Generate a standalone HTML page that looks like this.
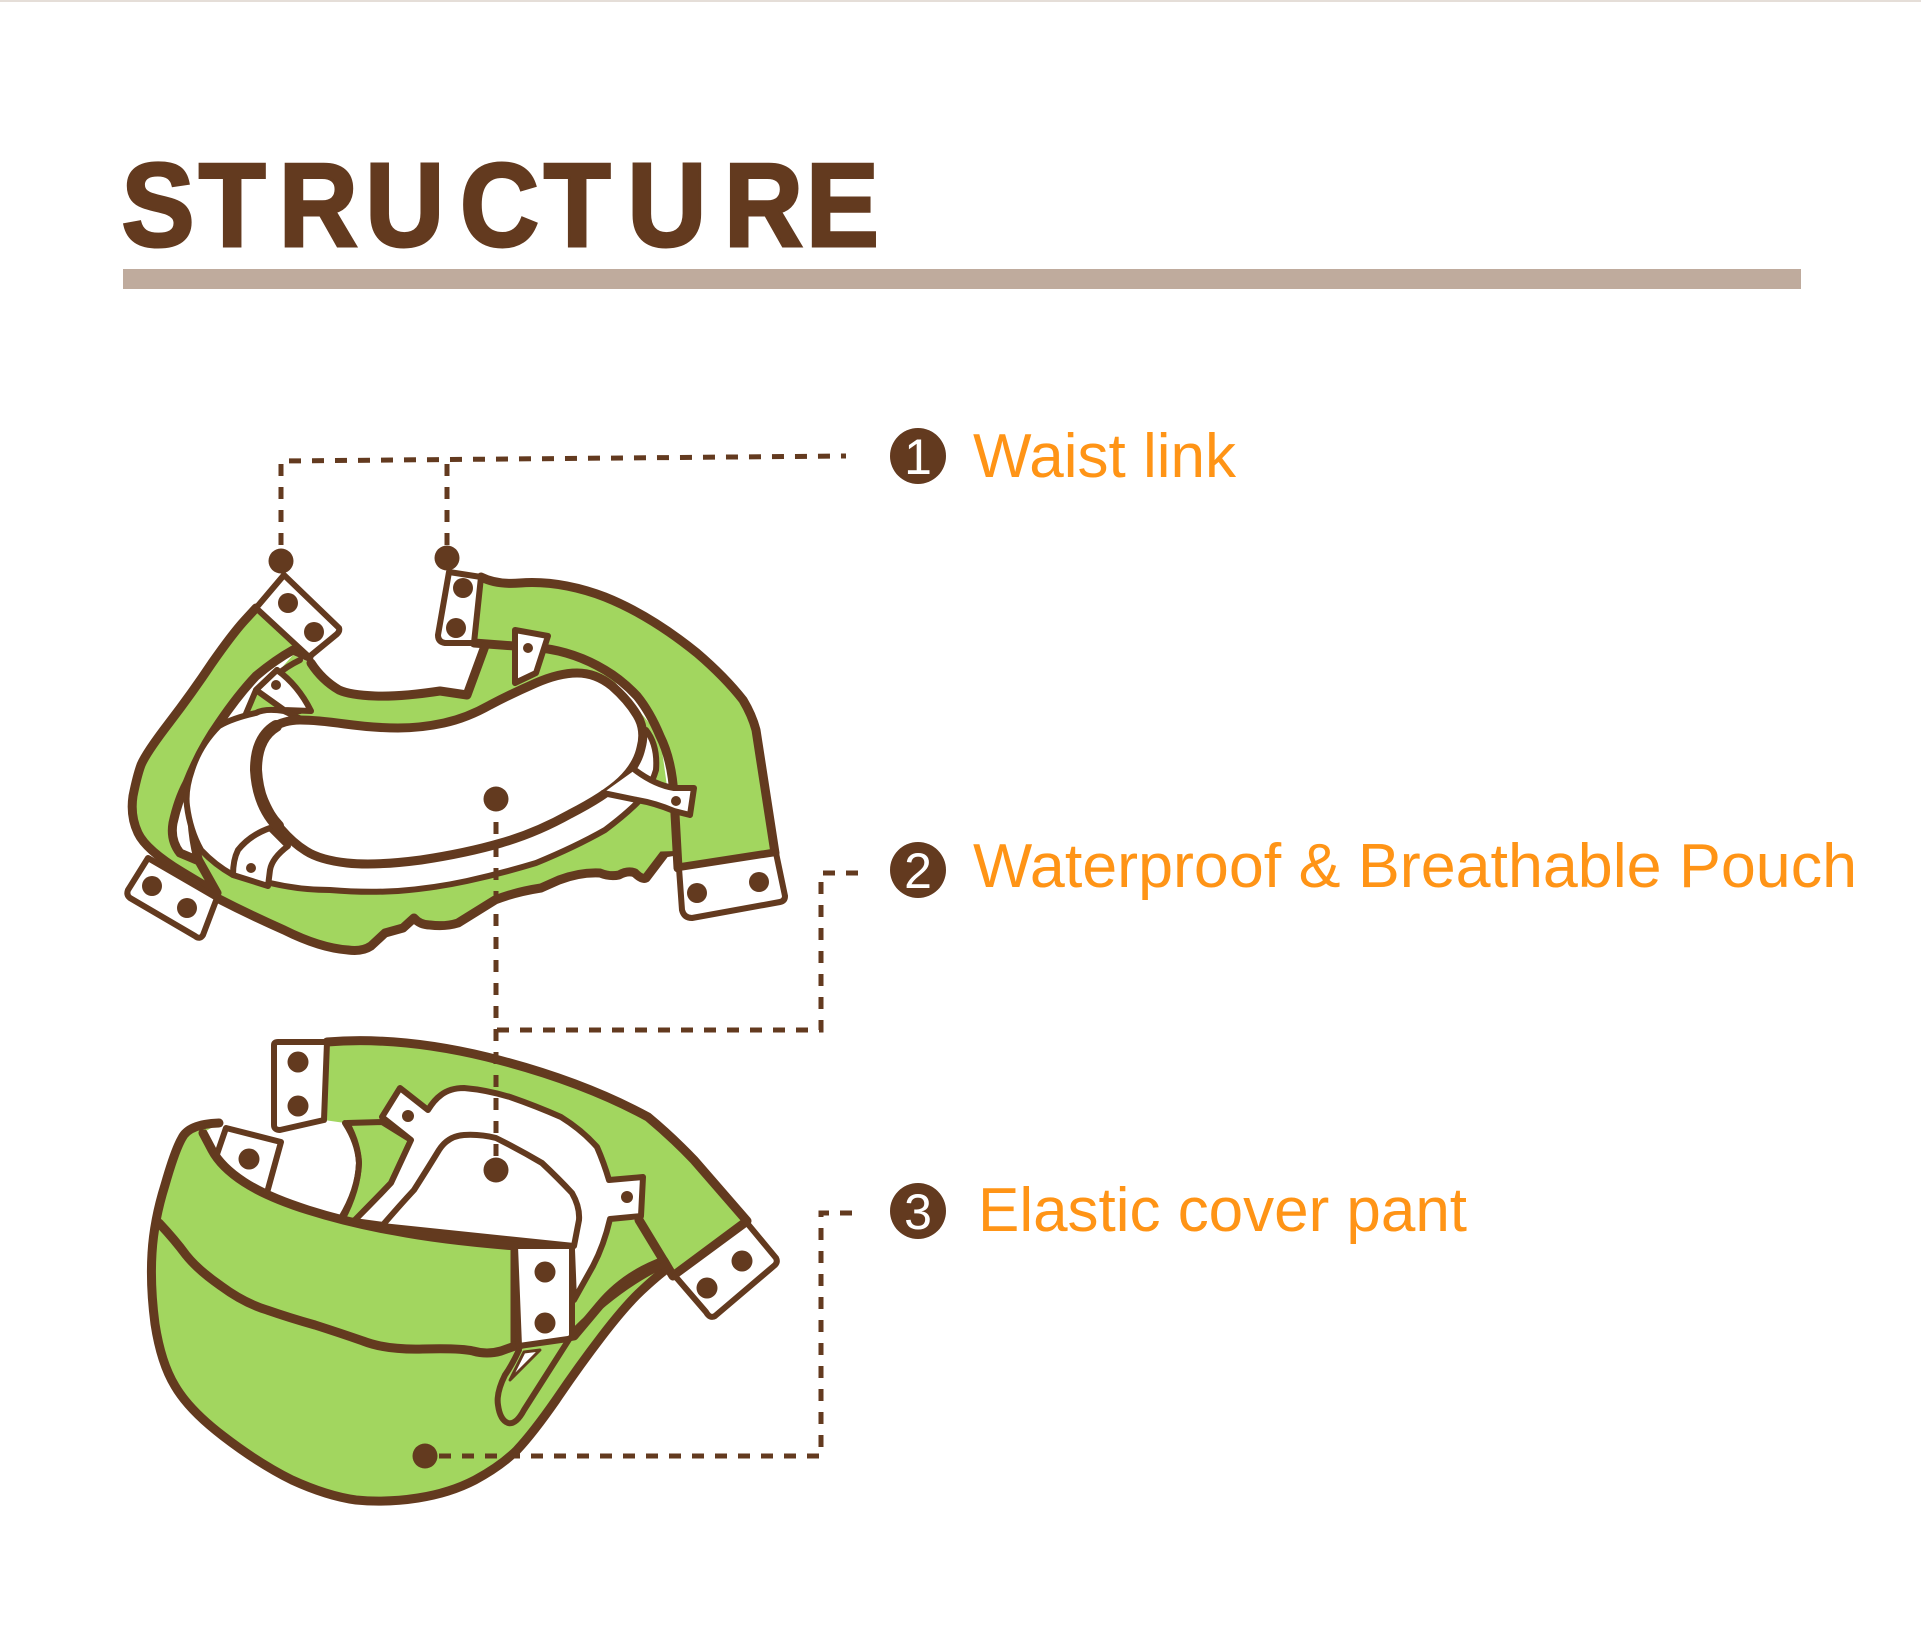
<!DOCTYPE html>
<html lang="en">
<head>
<meta charset="utf-8">
<title>Structure</title>
<style>
html,body{margin:0;padding:0;background:#fff}
svg{display:block}
text{font-family:"Liberation Sans",sans-serif}
.o{stroke:#633A1F;stroke-width:9;stroke-linejoin:round;stroke-linecap:round}
.t{stroke:#633A1F;stroke-width:6;stroke-linejoin:round;stroke-linecap:round}
.g{fill:#A2D65F}
.w{fill:#fff}
.n{fill:none}
.d{fill:#633A1F}
.dash{fill:none;stroke:#633A1F;stroke-width:5;stroke-dasharray:12 11}
.lab{fill:#FF9416;font-size:62px}
.num{fill:#fff;font-size:50px;text-anchor:middle}
</style>
</head>
<body>
<svg width="1921" height="1627" viewBox="0 0 1921 1627" xmlns="http://www.w3.org/2000/svg">
<rect width="1921" height="1627" fill="#fff"/>
<rect width="1921" height="2" fill="#E5DED8"/>
<text transform="translate(0,246) scale(.92,1)" x="132 216 303 397 500 591 682 787 876" y="0" font-size="119" font-weight="700" fill="#633A1F" stroke="#633A1F" stroke-width="3">STRUCTURE</text>
<rect x="123" y="269" width="1678" height="20" fill="#BFAB9D"/>

<!-- TOP GARMENT -->
<path class="g o" d="M192 820Q195 870 217 898Q250 915 284 930Q320 948 348 950Q362 952 371 946L385 933L403 928L414 918Q420 925 430 925Q445 927 458 923L495 900Q515 892 541 888L559 880Q580 872 600 873Q610 877 619 875Q628 870 635 873Q642 880 646 878L665 853L676 851"/>
<path class="g" d="M311 663Q322 680 339 690Q350 695 375 696Q400 697 440 691L467 695L485 646L541 648L605 670L660 736L676 851L400 860L200 800L262 690L293 655Z"/>
<path class="g o" d="M256 608L245 620Q233 633 212 663Q192 693 169 723Q146 753 141 765Q137 776 133 796Q130 816 138 833Q146 850 182 872L217 893L199 861L180 853Q170 840 173 823Q178 800 187 783Q200 750 219 723Q238 695 256 676Q275 660 293 650L309 657"/>
<path class="n t" d="M300 660Q275 672 258 695"/>
<path class="g o" d="M481 577Q497 585 520 583Q560 580 605 597Q650 615 697 653Q725 677 743 700Q752 715 756 730L775 853L678 868L674 796Q672 760 660 736Q650 712 637 696Q622 680 605 670Q575 652 541 648L474 643"/>
<path class="n o" d="M485 646L467 695L440 691Q400 697 375 696Q350 695 339 690Q322 680 311 663"/>

<!-- top garment tabs -->
<path class="w t" d="M284 575L339 628Q340 631 337 634L309 657L256 608Z"/>
<circle class="d" cx="288" cy="603" r="10"/><circle class="d" cx="314" cy="632" r="10"/>
<path class="w t" d="M449 572L481 577L474 643L445 643Q438 642 438 635Z"/>
<circle class="d" cx="463" cy="588" r="10"/><circle class="d" cx="456" cy="628" r="10"/>
<path class="w t" d="M148 858L217 898L203 935Q200 940 195 936L130 898Q126 895 128 890Z"/>
<circle class="d" cx="152" cy="886" r="10"/><circle class="d" cx="187" cy="908" r="10"/>
<path class="w t" d="M679 868L776 853L785 896Q785 901 780 902L692 918Q684 918 682 910Z"/>
<circle class="d" cx="697" cy="893" r="10"/><circle class="d" cx="759" cy="882" r="10"/>
<path class="w t" d="M515 630L548 636L536 673L515 683Z"/><circle class="d" cx="528" cy="648" r="5"/>
<path class="g t" d="M256 690L277 670L300 711L245 716Z"/>
<path class="w t" d="M277 670L256 690L284 710L311 711Q298 685 277 670Z"/><circle class="d" cx="276" cy="685" r="5"/>

<!-- liner + pouch -->
<path class="w t" d="M284 711Q265 708 256 713Q233 718 219 726Q200 745 192 770Q185 790 187 806Q190 830 201 850Q215 865 233 875L270 883Q300 890 330 890Q365 893 398 891Q435 888 467 881Q503 873 536 863Q575 847 605 830Q625 815 637 803Q650 790 656 770Q658 745 646 730L400 765Z"/>
<path class="w t" d="M233 875Q233 860 238 850Q250 835 270 828L288 846Q272 858 270 870L268 886Z"/>
<circle class="d" cx="251" cy="868" r="5"/>
<path class="w o" d="M272 728Q284 720 300 720Q316 720 345 724Q375 728 398 728Q421 728 444 723Q467 718 490 705Q513 693 536 683Q559 673 577 673Q596 673 612 686Q628 700 637 715Q646 730 641 748Q637 766 621 781Q605 796 570 814Q536 833 501 843Q467 853 421 860Q375 866 347 863Q320 860 306 851Q293 843 281 829Q270 816 262 796Q254 776 257 756Q261 736 272 728Z"/>
<path class="n" stroke="#633A1F" stroke-width="12" stroke-linecap="round" d="M276 726Q256 738 256 770Q258 805 278 826"/>
<path class="w t" d="M635 770Q655 785 674 788L694 788L690 815L674 811Q655 803 637 800L603 793"/>
<circle class="d" cx="676" cy="801" r="5"/>

<!-- BOTTOM GARMENT -->
<path class="g" d="M327 1042L520 1070L640 1220L400 1150L324 1120Z"/>
<path class="g" d="M610 1219L639 1220L666 1266L625 1283L574 1336L574 1300Z"/>
<path class="g o" d="M327 1042Q400 1036 487 1057Q580 1080 648 1117Q672 1137 694 1160L747 1221L673 1276L639 1220"/>
<path class="n t" d="M639 1220L666 1266"/>
<path class="w" d="M324 1120L345 1123Q360 1143 359 1163Q358 1190 340 1216L267 1197L278 1130Z"/>
<path class="g t" d="M347 1123L382 1122L411 1140L391 1183L354 1221L342 1220Q358 1190 359 1163Q358 1143 347 1123Z"/>
<path class="w t" d="M400 1088L428 1110Q434 1100 441 1095Q450 1088 464 1088Q487 1090 510 1097Q536 1106 561 1117Q582 1130 597 1147Q604 1163 609 1180L643 1177L641 1216L610 1219Q604 1245 593 1266L574 1300L572 1250L354 1221Q375 1200 391 1183L411 1140L382 1117Z"/>
<circle class="d" cx="408" cy="1116" r="6"/><circle class="d" cx="627" cy="1197" r="6"/>
<path class="w t" d="M382 1226Q400 1205 414 1190Q428 1168 439 1150Q448 1136 464 1135Q480 1134 496 1138Q520 1150 542 1163Q558 1178 572 1193Q580 1207 579 1220L574 1246Z"/>
<path class="n t" d="M341 1218Q358 1190 359 1163Q358 1143 345 1123"/>
<path class="w t" d="M274 1045Q274 1042 278 1042L327 1042L324 1120L280 1130Q274 1130 274 1125Z"/>
<circle class="d" cx="298" cy="1062" r="10.5"/><circle class="d" cx="298" cy="1106" r="10.5"/>
<path class="w t" d="M226 1128L281 1142L265 1200L215 1160Z"/>
<circle class="d" cx="249" cy="1159" r="10.5"/>
<path class="w t" d="M747 1223L776 1258Q778 1262 775 1265L715 1316Q710 1319 706 1312L675 1276Z"/>
<circle class="d" cx="742" cy="1261" r="10.5"/><circle class="d" cx="707" cy="1288" r="10.5"/>

<path class="g o" d="M219 1123Q189 1124 182 1138Q175 1150 165 1185Q154 1220 152 1253Q150 1286 155 1324Q161 1363 175 1386Q189 1410 223 1436Q258 1463 292 1480Q327 1496 356 1500Q386 1503 418 1498Q450 1493 475 1480Q501 1466 517 1450Q533 1433 556 1400Q579 1366 602 1336Q625 1306 641 1291Q657 1276 668 1268L664 1261Q625 1275 600 1305L574 1336L515 1346L515 1246Q441 1240 395 1231Q349 1223 308 1210Q267 1197 244 1182Q221 1167 212 1150Q203 1133 203 1133"/>
<path class="n o" d="M159 1223Q175 1240 186 1255Q198 1270 221 1286Q244 1303 267 1310Q290 1318 315 1325Q340 1333 363 1341Q386 1350 423 1349Q460 1348 473 1351Q487 1355 501 1351L515 1346"/>
<path class="g t" d="M519 1350Q512 1365 505 1375Q496 1393 498 1405Q500 1420 508 1423Q516 1425 524 1410L575 1330"/>
<path class="n t" d="M575 1330Q620 1285 666 1264"/>
<path class="w" stroke="#633A1F" stroke-width="3" stroke-linejoin="round" d="M524 1352L540 1350L510 1380Z"/>
<path class="w t" d="M515 1246L572 1246L572 1335Q572 1338 568 1339L519 1346Z"/>
<circle class="d" cx="545" cy="1272" r="10.5"/><circle class="d" cx="545" cy="1323" r="10.5"/>

<!-- leader lines -->
<path class="dash" d="M281 545L281 461L846 456"/>
<path class="dash" d="M447 545L447 460"/>
<path class="dash" d="M496 799L496 1170"/>
<path class="dash" d="M858 873L821 873L821 1030L496 1030"/>
<path class="dash" d="M852 1213L821 1213L821 1456L425 1456"/>
<circle class="d" cx="281" cy="561" r="12.5"/>
<circle class="d" cx="447" cy="558" r="12.5"/>
<circle class="d" cx="496" cy="799" r="12.5"/>
<circle class="d" cx="496" cy="1170" r="12.5"/>
<circle class="d" cx="425" cy="1456" r="12.5"/>

<!-- labels -->
<circle class="d" cx="918" cy="456" r="28"/>
<text class="num" x="918" y="474">1</text>
<text class="lab" x="973" y="477" textLength="263" lengthAdjust="spacingAndGlyphs">Waist link</text>
<circle class="d" cx="918" cy="870" r="28"/>
<text class="num" x="918" y="888">2</text>
<text class="lab" x="973" y="887" textLength="884" lengthAdjust="spacingAndGlyphs">Waterproof &amp; Breathable Pouch</text>
<circle class="d" cx="918" cy="1211" r="28"/>
<text class="num" x="918" y="1229">3</text>
<text class="lab" x="978" y="1231" textLength="489" lengthAdjust="spacingAndGlyphs">Elastic cover pant</text>
</svg>
</body>
</html>
